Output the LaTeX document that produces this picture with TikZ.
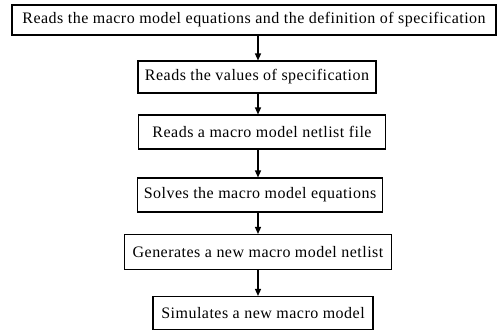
\documentclass[tikz,border=0pt]{standalone}
\usepackage{fontspec}
\setmainfont{Liberation Serif}[LetterSpace=3]
\usetikzlibrary{arrows.meta}
\begin{document}
\begin{tikzpicture}[x=1pt,y=-1pt,
  stepbox/.style={draw, line width=1.1pt, inner sep=0pt, font=\fontsize{16}{18}\selectfont},
  arr/.style={line width=1.3pt, -{Triangle[length=7pt,width=6pt]}}]
\useasboundingbox (0,0) rectangle (503,333);
\node[stepbox, minimum width=484pt, minimum height=30pt] (b1) at (254,20) {Reads the macro model equations and the definition of specification};
\node[stepbox, minimum width=238pt, minimum height=32pt] (b2) at (257,77) {Reads the values of specification};
\node[stepbox, minimum width=247pt, minimum height=34pt] (b3) at (262,132) {Reads a macro model netlist file};
\node[stepbox, minimum width=245pt, minimum height=34pt] (b4) at (260,195) {Solves the macro model equations};
\node[stepbox, minimum width=267pt, minimum height=35pt] (b5) at (258,252) {Generates a new macro model netlist};
\node[stepbox, minimum width=220pt, minimum height=33pt] (b6) at (263,313) {Simulates a new macro model};
\coordinate (ax) at (258,0);
\draw[arr] (b1.south -| ax) -- (b2.north -| ax);
\draw[arr] (b2.south -| ax) -- (b3.north -| ax);
\draw[arr] (b3.south -| ax) -- (b4.north -| ax);
\draw[arr] (b4.south -| ax) -- (b5.north -| ax);
\draw[arr] (b5.south -| ax) -- (b6.north -| ax);
\end{tikzpicture}
\end{document}
